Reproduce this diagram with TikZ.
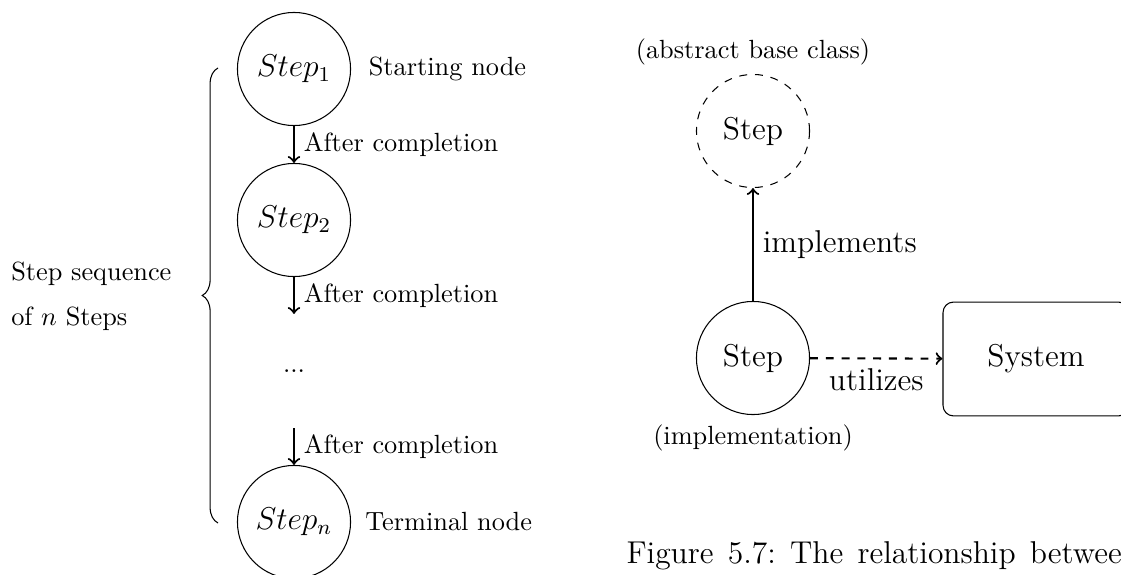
\documentclass[tikz,border=0pt]{standalone}
\usetikzlibrary{calc,decorations.pathreplacing}
\begin{document}
\begin{tikzpicture}[x=0.3802pt, y=-0.3802pt,
  stepnode/.style={circle, draw, minimum size=43pt, inner sep=0pt, font=\large},
  slot/.style={circle, minimum size=43pt, inner sep=0pt},
  sysbox/.style={draw, rounded corners=4pt, minimum width=70.7pt, minimum height=43.3pt, font=\large},
  flow/.style={->, thick},
  tag/.style={font=\normalsize},
  biglabel/.style={font=\large},
]
\useasboundingbox (0,0) rectangle (1121,575);
\clip (0,0) rectangle (1121,575);

% ---- left: sequence of steps ----
\node[stepnode] (s1) at (294,69) {$Step_1$};
\node[stepnode] (s2) at (294,220) {$Step_2$};
\node[slot] (dots) at (294,371) {...};
\node[stepnode] (sn) at (294,522) {$Step_n$};

\draw[flow] (s1) -- (s2) node[midway, right, tag] {After completion};
\draw[flow] (s2) -- (dots) node[midway, right, tag] {After completion};
\draw[flow] (dots) -- (sn) node[midway, right, tag] {After completion};

\node[anchor=west, tag] (startlbl) at ($(s1.east)+(8.5,0)$) {Starting node};
\node[anchor=west, tag] (endlbl) at ($(sn.east)+(5,0)$) {Terminal node};

\draw[decorate, decoration={brace, amplitude=6pt}] (218,523) -- (218,68);
\node[anchor=west, align=left, font=\fontsize{10}{17.1}\selectfont] (seq) at (2,296)
  {Step sequence\\of $n$ Steps};

% ---- right: class relationship ----
\node[stepnode, dashed] (base) at (753,131) {Step};
\node[tag, anchor=south] (basetag) at (base.north) {(abstract base class)};
\node[stepnode] (impl) at (753,358) {Step};
\node[tag, anchor=north] (impltag) at (impl.south) {(implementation)};
\node[sysbox] (sys) at (1036,359) {System};

\draw[flow] (impl) -- (base) node[midway, right, biglabel] {implements};
\draw[flow, dashed] (impl) -- (sys) node[midway, below, biglabel] {utilizes};

% ---- caption line ----
\node[anchor=base west, inner sep=0pt, font={\large\spaceskip=5.4pt\relax\xspaceskip=5.4pt\relax}] (cap) at (626,563)
  {Figure 5.7: The relationship between};
\end{tikzpicture}
\end{document}
